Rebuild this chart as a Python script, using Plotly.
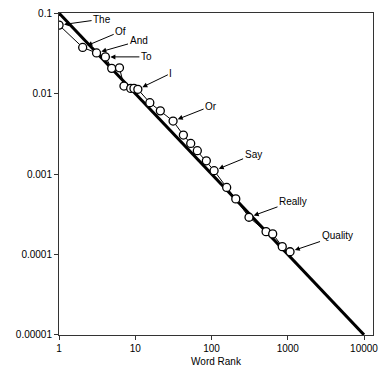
import math
import plotly.graph_objects as go

# Data
ranks = [1, 2.04, 3.1, 4.05, 4.9, 6.2, 7.1, 8.7, 9.6, 10.8, 15.5, 21.3, 31.3,
         42.7, 53.3, 65.1, 85.5, 108, 158, 208, 310, 519, 634, 847, 1071]
freqs = [0.071, 0.0375, 0.032, 0.0286, 0.0206, 0.0209, 0.0124, 0.0116, 0.0116, 0.0113,
         0.0077, 0.0061, 0.00455, 0.00305, 0.0024, 0.00195, 0.00146, 0.0011,
         0.00068, 0.00049, 0.00029, 0.000192, 0.00018, 0.000125, 0.000108]

zipf_x = [1, 10000]
zipf_y = [0.1, 0.00001]

words = ["The", "Of", "And", "To", "I", "Or", "Say", "Really", "Quality"]
word_index = [0, 1, 2, 3, 9, 12, 17, 20, 24]
label_dx = [43, 38, 42, 41, 33, 38, 39, 44, 47]
label_dy = [-6, -16, -12, 0, -16, -15, -16, -16, -16]

x_ticks = [1, 10, 100, 1000, 10000]
x_tick_text = ["1", "10", "100", "1000", "10000"]
y_ticks = [0.1, 0.01, 0.001, 0.0001, 0.00001]
y_tick_text = ["0.1", "0.01", "0.001", "0.0001", "0.00001"]

FONT = "Liberation Sans, Arial, sans-serif"

fig = go.Figure()
fig.add_trace(go.Scatter(x=zipf_x, y=zipf_y, mode="lines",
                         line=dict(color="black", width=3), showlegend=False,
                         hoverinfo="skip"))
fig.add_trace(go.Scatter(x=ranks, y=freqs, mode="lines+markers",
                         line=dict(color="black", width=1),
                         marker=dict(symbol="circle", size=8, color="white",
                                     line=dict(color="black", width=1.3)),
                         showlegend=False))

for w, i, dx, dy in zip(words, word_index, label_dx, label_dy):
    fig.add_annotation(x=math.log10(ranks[i]), y=math.log10(freqs[i]),
                       xref="x", yref="y",
                       text=w, showarrow=True, ax=dx, ay=dy,
                       arrowhead=2, arrowsize=1, arrowwidth=1, arrowcolor="black",
                       standoff=5, font=dict(family=FONT, size=10, color="black"))

axis_common = dict(showline=True, linecolor="#333", linewidth=1, mirror=True,
                   ticks="outside", ticklen=4, tickcolor="#333", showgrid=False,
                   zeroline=False, automargin=False, ticklabeloverflow="allow",
                   tickfont=dict(family=FONT, size=10, color="black"))

fig.update_xaxes(type="log", range=[-0.001, 4.118], tickvals=x_ticks, ticktext=x_tick_text,
                 title=dict(text="Word Rank", font=dict(family=FONT, size=10, color="black"),
                            standoff=4), **axis_common)
fig.update_yaxes(type="log", range=[-5.002, -0.998], tickvals=y_ticks, ticktext=y_tick_text,
                 **axis_common)

fig.update_layout(width=381, height=365, margin=dict(l=51, r=16, t=5, b=38),
                  plot_bgcolor="white", paper_bgcolor="white",
                  font=dict(family=FONT, size=10, color="black"))

fig.write_html("out.html")
